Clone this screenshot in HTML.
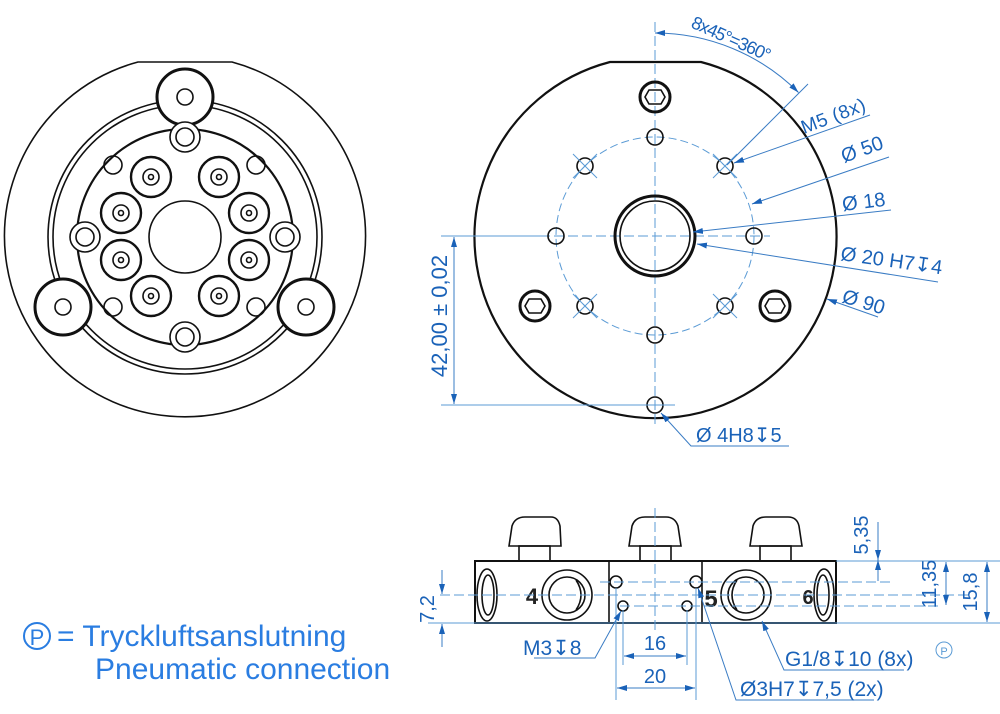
<!DOCTYPE html>
<html><head><meta charset="utf-8"><style>
html,body{margin:0;padding:0;background:#fff}
svg{display:block}
text{font-family:"Liberation Sans","DejaVu Sans",sans-serif;fill:#1a62b8}
.k{fill:none;stroke:#111;stroke-width:1.6}
.kt{fill:none;stroke:#111;stroke-width:3}
.c{fill:none;stroke:#5b9bd5;stroke-width:1;stroke-dasharray:10 4}
.d{fill:none;stroke:#5b9bd5;stroke-width:1}
.l{fill:none;stroke:#3a7cc4;stroke-width:1}
</style></head><body>
<svg width="1000" height="714" viewBox="0 0 1000 714" xmlns="http://www.w3.org/2000/svg">
<defs>
<marker id="a" viewBox="0 0 10 6" refX="10" refY="3" markerWidth="10" markerHeight="6" orient="auto-start-reverse" markerUnits="userSpaceOnUse"><path d="M0,0 L10,3 L0,6z" fill="#1a62b8"/></marker>
</defs>

<!-- LEFT VIEW -->
<path class="k" d="M138,62 L232,62 A180.5,180.5 0 1 1 138,62 Z"/>
<circle class="k" cx="185" cy="237" r="137"/>
<circle class="k" cx="185" cy="237" r="132"/>
<circle class="kt" cx="185" cy="237" r="108" style="stroke-width:2.2"/>
<circle class="k" cx="185" cy="237" r="36"/>
<g>
<circle class="kt" cx="185" cy="97" r="28" style="fill:#fff"/><circle class="k" cx="185" cy="97" r="8"/>
<circle class="kt" cx="63" cy="307" r="28" style="fill:#fff"/><circle class="k" cx="63" cy="307" r="8"/>
<circle class="kt" cx="306" cy="307" r="28" style="fill:#fff"/><circle class="k" cx="306" cy="307" r="8"/>
</g>
<g>
<circle class="k" cx="185" cy="137" r="15" style="fill:#fff"/><circle class="k" cx="185" cy="137" r="9"/>
<circle class="k" cx="185" cy="337" r="15" style="fill:#fff"/><circle class="k" cx="185" cy="337" r="9"/>
<circle class="k" cx="85" cy="237" r="15" style="fill:#fff"/><circle class="k" cx="85" cy="237" r="9"/>
<circle class="k" cx="285" cy="237" r="15" style="fill:#fff"/><circle class="k" cx="285" cy="237" r="9"/>
<circle class="k" cx="113" cy="165" r="9"/><circle class="k" cx="256" cy="165" r="9"/>
<circle class="k" cx="113" cy="307" r="9"/><circle class="k" cx="256" cy="307" r="9"/>
</g>
<g>
<g transform="translate(151,177)"><circle class="kt" r="20" style="stroke-width:2.4"/><circle class="k" r="8"/><circle class="k" r="2.5"/></g>
<g transform="translate(219,177)"><circle class="kt" r="20" style="stroke-width:2.4"/><circle class="k" r="8"/><circle class="k" r="2.5"/></g>
<g transform="translate(121,213)"><circle class="kt" r="20" style="stroke-width:2.4"/><circle class="k" r="8"/><circle class="k" r="2.5"/></g>
<g transform="translate(249,213)"><circle class="kt" r="20" style="stroke-width:2.4"/><circle class="k" r="8"/><circle class="k" r="2.5"/></g>
<g transform="translate(121,260)"><circle class="kt" r="20" style="stroke-width:2.4"/><circle class="k" r="8"/><circle class="k" r="2.5"/></g>
<g transform="translate(249,260)"><circle class="kt" r="20" style="stroke-width:2.4"/><circle class="k" r="8"/><circle class="k" r="2.5"/></g>
<g transform="translate(151,296)"><circle class="kt" r="20" style="stroke-width:2.4"/><circle class="k" r="8"/><circle class="k" r="2.5"/></g>
<g transform="translate(219,296)"><circle class="kt" r="20" style="stroke-width:2.4"/><circle class="k" r="8"/><circle class="k" r="2.5"/></g>
</g>

<!-- RIGHT VIEW -->
<path class="k" d="M610,62 L701,62 A181,181 0 1 1 610,62 Z" style="stroke-width:2.2"/>
<line class="c" x1="655" y1="22" x2="655" y2="425"/>
<line class="c" x1="540" y1="236" x2="770" y2="236"/>
<circle class="c" cx="655" cy="236" r="99" style="stroke-dasharray:8 4"/>
<circle class="kt" cx="655" cy="236" r="40"/>
<circle class="k" cx="655" cy="236" r="35"/>
<g class="k">
<circle cx="655" cy="137" r="8"/><circle cx="655" cy="335" r="8"/>
<circle cx="556" cy="236" r="8"/><circle cx="754" cy="236" r="8"/>
<circle cx="585" cy="166" r="8"/><circle cx="725" cy="166" r="8"/>
<circle cx="585" cy="306" r="8"/><circle cx="725" cy="306" r="8"/>
<circle cx="655" cy="405" r="8"/>
</g>
<g class="d">
<path d="M573,154 L597,178 M597,154 L573,178"/><path d="M713,154 L737,178 M737,154 L713,178"/>
<path d="M573,294 L597,318 M597,294 L573,318"/><path d="M713,294 L737,318 M737,294 L713,318"/>
<line x1="640" y1="405" x2="675" y2="405"/>
</g>
<g>
<circle class="kt" cx="655" cy="97" r="15"/><polygon class="k" points="648,91 655,87 662,91 662,103 655,107 648,103" transform="rotate(90 655 97)"/>
<circle class="kt" cx="535" cy="306" r="15"/><polygon class="k" points="528,300 535,296 542,300 542,312 535,316 528,312" transform="rotate(90 535 306)"/>
<circle class="kt" cx="775" cy="306" r="15"/><polygon class="k" points="768,300 775,296 782,300 782,312 775,316 768,312" transform="rotate(90 775 306)"/>
</g>
<path class="l" d="M655,33 A203,203 0 0 1 798.5,92.5" marker-start="url(#a)" marker-end="url(#a)"/>
<line class="l" x1="808" y1="84" x2="727" y2="165"/>
<text transform="translate(690,27) rotate(24)" font-size="18" letter-spacing="-1">8x45°=360°</text>
<polyline class="l" points="870,115 734,163" marker-end="url(#a)"/>
<text transform="translate(804,134) rotate(-21)" font-size="19" letter-spacing="0.5">M5 (8x)</text>
<polyline class="l" points="889,157 752,204" marker-end="url(#a)"/>
<text transform="translate(844,163) rotate(-20)" font-size="20">Ø 50</text>
<polyline class="l" points="891,210 693,232" marker-end="url(#a)"/>
<text transform="translate(843,211) rotate(-7)" font-size="20">Ø 18</text>
<polyline class="l" points="938,282 697,244" marker-end="url(#a)"/>
<text transform="translate(840,260) rotate(8)" font-size="20">Ø 20 H7↧4</text>
<polyline class="l" points="878,317 827,299" marker-end="url(#a)"/>
<text transform="translate(841,302) rotate(17)" font-size="20">Ø 90</text>
<polyline class="l" points="789,446 691,446 661,413" marker-end="url(#a)"/>
<text x="696" y="442" font-size="20">Ø 4H8↧5</text>
<line class="d" x1="441" y1="236" x2="540" y2="236"/>
<line class="d" x1="441" y1="405" x2="640" y2="405"/>
<line class="l" x1="454" y1="237" x2="454" y2="404" marker-start="url(#a)" marker-end="url(#a)"/>
<text transform="translate(447,316) rotate(-90)" font-size="22" text-anchor="middle">42,00 ± 0,02</text>

<!-- SIDE VIEW -->
<g>
<path class="k" d="M509,546 L512,526 Q515,517 525,517 L551,517 Q558,517 560,526 L561,546 Z"/>
<rect class="k" x="519" y="546" width="31" height="15"/>
<path class="k" d="M629,546 L632,526 Q635,517 645,517 L666,517 Q675,517 678,526 L681,546 Z"/>
<rect class="k" x="640" y="546" width="31" height="15"/>
<path class="k" d="M750,546 L753,526 Q756,517 766,517 L788,517 Q797,517 799,526 L802,546 Z"/>
<rect class="k" x="760" y="546" width="31" height="15"/>
</g>
<rect class="k" x="475" y="561" width="361" height="62" style="stroke-width:2"/>
<line class="k" x1="609" y1="561" x2="609" y2="623"/>
<line class="k" x1="702" y1="561" x2="702" y2="623"/>
<circle class="k" cx="567" cy="595" r="25"/><circle class="k" cx="567" cy="595" r="18"/><path class="k" d="M576,580 Q586,595 576,610"/>
<circle class="k" cx="746" cy="595" r="25"/><circle class="k" cx="746" cy="595" r="18"/><path class="k" d="M737,580 Q727,595 737,610"/>
<ellipse class="k" cx="487" cy="595" rx="10" ry="26"/><ellipse class="k" cx="488" cy="595" rx="6" ry="20"/>
<ellipse class="k" cx="824" cy="595" rx="10" ry="26"/><ellipse class="k" cx="823" cy="595" rx="6" ry="20"/>
<circle class="k" cx="616" cy="582" r="6"/><circle class="k" cx="696" cy="582" r="6"/>
<circle class="k" cx="623" cy="606" r="5"/><circle class="k" cx="687" cy="606" r="5"/>
<text x="532" y="604" font-size="22" font-weight="bold" text-anchor="middle" style="fill:#222">4</text>
<text x="711" y="607" font-size="24" font-weight="bold" text-anchor="middle" style="fill:#222">5</text>
<text x="808" y="604" font-size="20" font-weight="bold" text-anchor="middle" style="fill:#222">6</text>
<g class="c">
<line x1="440" y1="595" x2="970" y2="595"/>
<line x1="600" y1="582" x2="892" y2="582"/>
<line x1="620" y1="606" x2="940" y2="606"/>
<line x1="655" y1="508" x2="655" y2="630"/>
</g>
<line class="d" x1="428" y1="623" x2="1000" y2="623"/>
<line class="d" x1="836" y1="561" x2="1000" y2="561"/>
<line class="l" x1="442" y1="570" x2="442" y2="594" marker-end="url(#a)"/>
<line class="l" x1="442" y1="647" x2="442" y2="624" marker-end="url(#a)"/>
<text transform="translate(434,609) rotate(-90)" font-size="20" text-anchor="middle">7,2</text>
<line class="l" x1="878" y1="522" x2="878" y2="560" marker-end="url(#a)"/>
<line class="l" x1="878" y1="560" x2="878" y2="581" marker-start="url(#a)"/>
<text transform="translate(868,535) rotate(-90)" font-size="20" text-anchor="middle">5,35</text>
<line class="l" x1="946" y1="562" x2="946" y2="605" marker-start="url(#a)" marker-end="url(#a)"/>
<text transform="translate(936,584) rotate(-90)" font-size="20" text-anchor="middle">11,35</text>
<line class="l" x1="987" y1="562" x2="987" y2="622" marker-start="url(#a)" marker-end="url(#a)"/>
<text transform="translate(977,592) rotate(-90)" font-size="20" text-anchor="middle">15,8</text>
<line class="d" x1="623" y1="610" x2="623" y2="665"/>
<line class="d" x1="687" y1="610" x2="687" y2="665"/>
<line class="d" x1="616" y1="588" x2="616" y2="700"/>
<line class="d" x1="696" y1="588" x2="696" y2="700"/>
<line class="l" x1="624" y1="656" x2="686" y2="656" marker-start="url(#a)" marker-end="url(#a)"/>
<text x="655" y="650" font-size="20" text-anchor="middle">16</text>
<line class="l" x1="617" y1="688" x2="695" y2="688" marker-start="url(#a)" marker-end="url(#a)"/>
<text x="655" y="683" font-size="20" text-anchor="middle">20</text>
<polyline class="l" points="534,658 595,658 621,611" marker-end="url(#a)"/>
<text x="523" y="655" font-size="21">M3↧8</text>
<polyline class="l" points="874,700 736,700 698,588" marker-end="url(#a)"/>
<text x="740" y="696" font-size="21">Ø3H7↧7,5 (2x)</text>
<polyline class="l" points="904,670 784,670 762,621" marker-end="url(#a)"/>
<text x="785" y="666" font-size="21">G1/8↧10 (8x)</text>
<circle cx="944" cy="650" r="8" fill="none" stroke="#5b9bd5" stroke-width="1"/>
<text x="944" y="655" font-size="11" text-anchor="middle" style="fill:#5b9bd5">P</text>

<!-- legend -->
<circle cx="37" cy="636" r="13" fill="none" stroke="#2a7de1" stroke-width="2"/>
<text x="37" y="645" font-size="22" text-anchor="middle" style="fill:#2a7de1">P</text>
<text x="57" y="646" font-size="30" style="fill:#2a7de1">= Tryckluftsanslutning</text>
<text x="95" y="679" font-size="30" style="fill:#2a7de1">Pneumatic connection</text>
</svg>
</body></html>
